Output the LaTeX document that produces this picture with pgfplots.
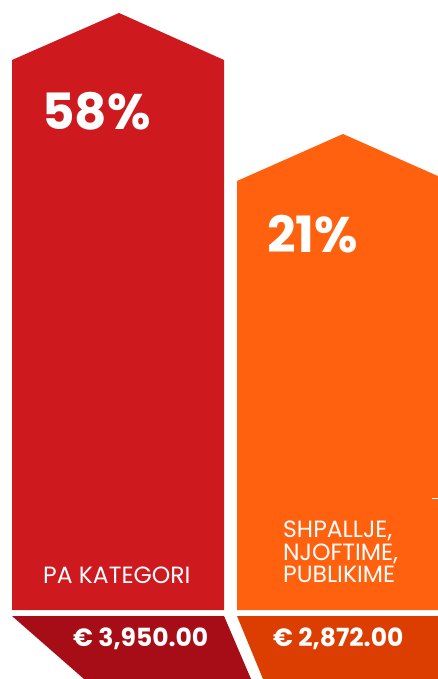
\documentclass[border=0pt]{standalone}
\usepackage{pgfplots}
\pgfplotsset{compat=1.18}
\usepackage{fontspec}
\setmainfont{Poppins}
\definecolor{redbar}{RGB}{206,25,30}
\definecolor{redbase}{RGB}{166,13,22}
\definecolor{orbar}{RGB}{255,97,15}
\definecolor{orbase}{RGB}{219,62,0}
\begin{document}
\begin{tikzpicture}
\begin{axis}[scale only axis,width=438pt,height=679pt,at={(0,0)},anchor=south west,
  xmin=0,xmax=438,ymin=0,ymax=679,y dir=reverse,hide axis,clip=true]
% bars (pixel units, y downwards)
\addplot[fill=redbar,draw=none] coordinates {(12,610) (12,60) (119,13) (224,60) (224,610)} --cycle;
\addplot[fill=orbar,draw=none] coordinates {(237,610) (237,181) (343,134) (449,181) (449,610)} --cycle;
% base strips
\addplot[fill=redbase,draw=none] coordinates {(12,616) (224,616) (251,679) (84,679)} --cycle;
\addplot[fill=orbase,draw=none] coordinates {(237,616) (460,616) (460,679) (263,679)} --cycle;
\addplot[draw=white,line width=1pt] coordinates {(432,498) (440,498)};
\end{axis}
\begin{scope}[x=1pt,y=-1pt,yshift=679pt]
\node[anchor=base west,text=white,inner sep=0pt,font=\fontsize{50}{50}\selectfont\bfseries] at (42,130) {58\%};
\node[anchor=base west,text=white,inner sep=0pt,font=\fontsize{50}{50}\selectfont\bfseries] at (267,253) {21\%};
\node[anchor=base west,text=white,inner sep=0pt,font=\fontsize{23.5}{22.5}\selectfont] at (43,584) {PA KATEGORI};
\node[anchor=base west,text=white,inner sep=0pt,align=left,font=\fontsize{23.5}{22.5}\selectfont] at (283,583) {SHPALLJE,\\NJOFTIME,\\PUBLIKIME};
\node[anchor=base west,text=white,inner sep=0pt,font=\fontsize{25}{25}\selectfont\bfseries] at (73,647) {€ 3,950.00};
\node[anchor=base west,text=white,inner sep=0pt,font=\fontsize{25}{25}\selectfont\bfseries] at (273,647) {€ 2,872.00};
\end{scope}
\pgfresetboundingbox
\useasboundingbox (0,0) rectangle (438pt,679pt);
\end{tikzpicture}
\end{document}
